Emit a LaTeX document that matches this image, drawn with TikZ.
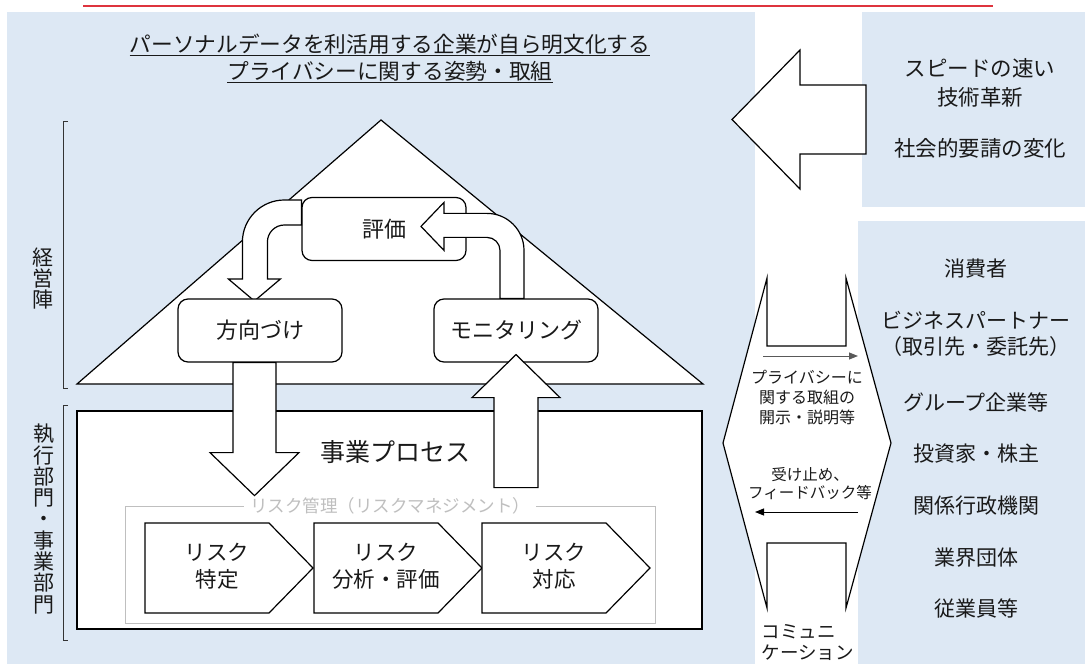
\documentclass[tikz,border=0pt]{standalone}
\usepackage{fontspec}
\setmainfont{Noto Sans CJK JP}
\usetikzlibrary{arrows.meta}
\definecolor{panelblue}{RGB}{221,232,244}
\definecolor{titlered}{RGB}{222,52,62}
\definecolor{riskgray}{RGB}{191,191,191}

\begin{document}
\begin{tikzpicture}[x=1pt, y=-1pt, line width=1.2pt,
	lbl/.style={font=\fontsize{21}{26}\selectfont, text=black!90, align=center, inner sep=0pt},
	rbox/.style={draw, fill=white, rounded corners=10pt, minimum width=164pt, minimum height=63pt,
		lbl, font=\fontsize{22}{26}\selectfont},
	blockarrow/.style={draw, fill=white}]

	\useasboundingbox (0,0) rectangle (1085,671);
	\fill[white] (0,0) rectangle (1085,671);

	% panels
	\fill[panelblue] (7,12) rectangle (755,664);
	\fill[panelblue] (862,12) rectangle (1085,207);
	\fill[panelblue] (858,221) rectangle (1085,664);
	\draw[titlered, line width=1.6pt] (83,6) -- (993,6);

	\node[lbl, font=\fontsize{21.7}{27}\selectfont] (heading) at (390,58.5)
		{\underline{パーソナルデータを利活用する企業が自ら明文化する}\\\underline{プライバシーに関する姿勢・取組}};

	% brackets
	\draw[black!80, line width=0.8pt] (68,121) -- (63,121) -- (63,388) -- (68,388);
	\draw[black!80, line width=0.8pt] (68,405) -- (63,405) -- (63,640) -- (68,640);
	\node[lbl, font=\fontsize{21}{21}\selectfont] (mgmt) at (43,279) {経\\営\\陣};
	\node[lbl, font=\fontsize{21}{21.3}\selectfont] (exec) at (44,519) {執\\行\\部\\門\\・\\事\\業\\部\\門};

	% house
	\draw[fill=white] (77,384) -- (381,120) -- (703,384) -- cycle;
	\draw[fill=white] (77,411) rectangle (702,629);
	\node[lbl, font=\fontsize{25}{30}\selectfont] (biz) at (395,452) {事業プロセス};

	\draw[riskgray, line width=1pt] (125,506) rectangle (655,623);
	\node[lbl, font=\fontsize{17.5}{20}\selectfont, text=riskgray, fill=white, inner xsep=6pt] (riskmgmt) at (390,506)
		{リスク管理（リスクマネジメント）};

	\foreach \x/\txt/\name in {145/{リスク\\特定}/ident, 314/{リスク\\分析・評価}/analysis, 482/{リスク\\対応}/respond} {
		\draw[fill=white] (\x,523) -- ++(124,0) -- ++(44,45) -- ++(-44,45) -- ++(-124,0) -- cycle;
		\node[lbl, font=\fontsize{21.5}{27}\selectfont] (\name) at (\x+72,566) {\txt};
	}

	% cycle
	\node[rbox] (eval) at (384,229) {評価};
	\draw[blockarrow] ([yshift=29pt]eval.west) -- ++(-17,0) arc[start angle=-90, end angle=-180, radius=42]
		-- ++(0,37) -- ++(-14,0) -- ++(26,22) -- ++(26,-22) -- ++(-13,0) -- ++(0,-37)
		arc[start angle=180, end angle=270, radius=17] -- ([yshift=4pt]eval.west) -- cycle;
	\node[rbox] (dir) at (260,330.5) {方向づけ};
	\node[rbox] (mon) at (516,330.5) {モニタリング};
	\draw[blockarrow] ([xshift=8pt]mon.north) -- ++(0,-48) arc[start angle=0, end angle=-90, radius=37]
		-- ++(-43,0) -- ++(0,-11) -- ++(-23,24) -- ++(23,24) -- ++(0,-13) -- ++(43,0)
		arc[start angle=-90, end angle=0, radius=13] -- ([xshift=-16pt]mon.north) -- cycle;

	\draw[blockarrow] ([xshift=-27pt]dir.south) -- ++(0,90) -- ++(-23,0) -- ++(44.5,43) -- ++(44.5,-43)
		-- ++(-23,0) -- ([xshift=16pt]dir.south) -- cycle;
	\draw[blockarrow] ([xshift=-22pt]mon.south) ++(0,125) -- ++(0,-90) -- ++(-22,0) -- ++(44,-43)
		-- ++(44,43) -- ++(-22,0) -- ++(0,90) -- cycle;

	% outside
	\node[lbl, font=\fontsize{21.5}{29}\selectfont] (tech) at (980,82.5) {スピードの速い\\技術革新};
	\node[lbl, font=\fontsize{21.5}{29}\selectfont] (social) at (980,148) {社会的要請の変化};
	\draw[blockarrow] (866,85) -- (800,85) -- (800,50) -- (732,119.5) -- (800,189) -- (800,154) -- (866,154) -- cycle;

	% communication
	\draw[fill=white] (767,278) -- (767,346) -- (846,346) -- (846,278) -- (891,443) -- (846,608)
		-- (846,543) -- (767,543) -- (767,608) -- (723,443) -- cycle;
	\coordinate (disclS) at (763,356);
	\coordinate (disclE) at (858,356);
	\coordinate (fbS) at (858,512);
	\coordinate (fbE) at (755,512);
	\draw[-{Triangle[length=9pt,width=7pt]}, black!65, line width=1pt] (disclS) -- (disclE);
	\draw[-{Triangle[length=9pt,width=7pt]}, black, line width=1pt] (fbS) -- (fbE);
	\node[lbl, font=\fontsize{16}{20}\selectfont] (disclose) at (807,398) {プライバシーに\\関する取組の\\開示・説明等};
	\node[lbl, font=\fontsize{15.5}{18}\selectfont] (feedback) at (810,484) {受け止め、\\フィードバック等};
	\node[lbl, font=\fontsize{18.5}{21}\selectfont, align=left, anchor=west] (comm) at (761,642.5) {コミュニ\\ケーション};

	\foreach \y/\txt [count=\i] in {269/消費者, 334/{ビジネスパートナー\\（取引先・委託先）}, 402/グループ企業等,
		454/投資家・株主, 506/関係行政機関, 558/業界団体, 609/従業員等}
		\node[lbl] (party\i) at (976,\y) {\txt};

\end{tikzpicture}
\end{document}
